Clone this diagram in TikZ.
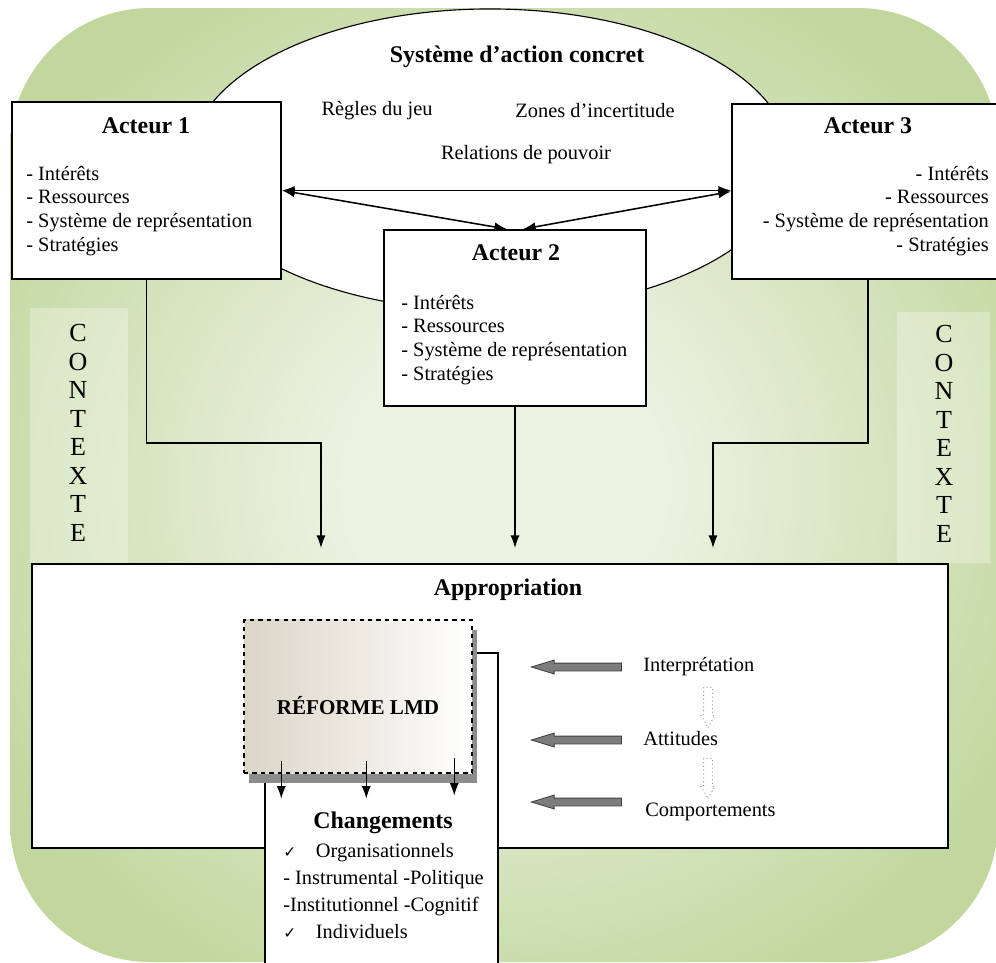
\documentclass[tikz,border=0pt]{standalone}
\usepackage{fontspec}
\setmainfont{Liberation Serif}
\newfontfamily\symboles{DejaVu Sans}
\usetikzlibrary{shapes.geometric,shapes.arrows,arrows.meta,shadows,calc}

\definecolor{vertfonce}{RGB}{193,215,157}
\definecolor{vertclair}{RGB}{236,242,226}
\definecolor{beige}{RGB}{218,213,198}
\definecolor{grisfleche}{RGB}{125,125,125}

\pgfdeclareradialshading{fondvert}{\pgfpoint{0bp}{0bp}}{%
	color(0bp)=(vertclair); color(8bp)=(vertclair); color(30bp)=(vertfonce); color(50bp)=(vertfonce)}

\tikzset{
	boite/.style={draw, line width=1.3pt, fill=white, inner sep=0pt},
	titre/.style={font=\bfseries\fontsize{17}{20}\selectfont, inner sep=0pt},
	texte/.style={font=\fontsize{14.5}{17}\selectfont, align=left, inner sep=0pt},
	contexte/.style={font=\fontsize{18.5}{20.3}\selectfont, align=center, inner sep=0pt},
	fleche/.style={-{Latex[length=9pt,width=6.5pt]}, line width=1pt},
	doublefleche/.style={{Latex[length=9pt,width=6.5pt]}-{Latex[length=9pt,width=6.5pt]}, line width=1.1pt},
	flechegrise/.style={single arrow, draw=black!75, line width=0.6pt, fill=grisfleche, minimum height=2.25cm, inner xsep=0pt, inner ysep=0.0875cm, single arrow head extend=0.075cm, single arrow tip angle=34},
	flechecreuse/.style={single arrow, draw=gray!80, dotted, line width=0.7pt, fill=white, minimum height=1cm, inner xsep=0pt, inner ysep=0.1cm, single arrow head extend=0.0625cm, single arrow tip angle=60}
}

\begin{document}
\begin{tikzpicture}[x=0.025cm, y=-0.025cm]
	\clip ( 0, 0 ) rectangle ( 996, 963 );

	% fond
	\shade [shading=fondvert, rounded corners=3.5cm] ( 10, 8 ) rectangle ( 998, 962 );

	% bandes contexte
	\fill [white, opacity=0.3] ( 30, 308 ) rectangle ( 128, 563 );
	\fill [white, opacity=0.3] ( 897, 312 ) rectangle ( 990, 563 );
	\node [contexte] (ctxg) at ( 78, 433 ) {C\\O\\N\\T\\E\\X\\T\\E};
	\node [contexte] (ctxd) at ( 944, 434 ) {C\\O\\N\\T\\E\\X\\T\\E};

	% système d'action concret
	\node [ellipse, draw, line width=0.8pt, fill=white, minimum width=15cm, minimum height=7.55cm] (sac) at ( 490, 160 ) {};
	\node [titre] (tsac) at ( 517, 57 ) {Système d’action concret};
	\node [texte] (regles) at ( 377, 111 ) {Règles du jeu};
	\node [texte] (zones) at ( 595, 111 ) {Zones d’incertitude};
	\node [texte] (relations) at ( 526, 155 ) {Relations de pouvoir};

	% acteur 1
	\node [boite, minimum width=6.725cm, minimum height=4.425cm] (act1) at ( 146.5, 190.5 ) {};
	\node [titre] (tact1) at ( 146, 126 ) {Acteur 1};
	\node [texte, anchor=west] (lact1) at ( 26, 211 ) {- Intérêts\\- Ressources\\- Système de représentation\\- Stratégies};

	% acteur 3
	\node [boite, minimum width=6.8cm, minimum height=4.375cm] (act3) at ( 868, 191.5 ) {};
	\node [titre] (tact3) at ( 868, 126 ) {Acteur 3};
	\node [texte, align=right, anchor=east] (lact3) at ( 989, 211 ) {- Intérêts\\- Ressources\\- Système de représentation\\- Stratégies};

	% acteur 2
	\node [boite, minimum width=6.55cm, minimum height=4.4cm] (act2) at ( 515, 318 ) {};
	\node [titre] (tact2) at ( 516, 253 ) {Acteur 2};
	\node [texte, anchor=west] (lact2) at ( 401, 340 ) {- Intérêts\\- Ressources\\- Système de représentation\\- Stratégies};

	% relations entre acteurs
	\draw [doublefleche] (act1.east) -- (act1.east -| act3.west);
	\draw [doublefleche] (act1.east) -- ($ (act2.north) + ( -8, 0 ) $);
	\draw [doublefleche] (act3.west) -- ($ (act2.north) + ( 8, 0 ) $);

	% vers l'appropriation
	\coordinate (c1) at ( 321, 548 );
	\coordinate (c2) at ( 515, 548 );
	\coordinate (c3) at ( 713, 548 );
	\draw [fleche] (act1.south) -- ++( 0, 163 ) -| (c1);
	\draw [fleche] (act2.south) -- (c2);
	\draw [fleche] (act3.south) -- ++( 0, 163 ) -| (c3);

	% appropriation
	\node [boite, minimum width=22.9cm, minimum height=7.1cm] (approp) at ( 490, 706 ) {};
	\node [titre] (tapprop) at ( 508, 590 ) {Appropriation};

	% changements
	\node [boite, line width=1pt, minimum width=5.825cm, minimum height=7.925cm] (chg) at ( 381.5, 811.5 ) {};
	\node [titre] (tchg) at ( 383, 823 ) {Changements};
	\node [texte, anchor=west, font=\fontsize{14.5}{19.2}\selectfont] (lchg) at ( 283, 891 ) {{\symboles\fontsize{11}{11}\selectfont ✓}\hspace{14pt}Organisationnels\\- Instrumental -Politique\\-Institutionnel -Cognitif\\{\symboles\fontsize{11}{11}\selectfont ✓}\hspace{14pt}Individuels};

	% réforme LMD
	\node [draw, dashed, line width=1pt, left color=beige, right color=white, minimum width=5.7cm, minimum height=3.825cm, drop shadow={shadow xshift=0.125cm, shadow yshift=-0.25cm, fill=black!45, opacity=1}] (reforme) at ( 358, 696.5 ) {};
	\node [titre, font=\bfseries\fontsize{15}{18}\selectfont] (treforme) at ( 358, 706 ) {RÉFORME LMD};
	\draw [fleche] ($ (reforme.south west) + ( 38, -13 ) $) -- ++( 0, 38 );
	\draw [fleche] ($ (reforme.south west) + ( 123, -13 ) $) -- ++( 0, 38 );
	\draw [fleche] ($ (reforme.south west) + ( 211, -16 ) $) -- ++( 0, 38 );

	% interprétation, attitudes, comportements
	\node [texte, anchor=west] (interp) at ( 643, 667 ) {Interprétation};
	\node [texte, anchor=west] (attit) at ( 643, 739 ) {Attitudes};
	\node [texte, anchor=west] (comport) at ( 645, 812 ) {Comportements};
	\node [flechegrise, rotate=180, anchor=tip] (g1) at ( 530, 667 ) {};
	\node [flechegrise, rotate=180, anchor=tip] (g2) at ( 530, 740 ) {};
	\node [flechegrise, rotate=180, anchor=tip] (g3) at ( 530, 802 ) {};
	\node [flechecreuse, rotate=-90, anchor=tail] (p1) at ( 708, 687 ) {};
	\node [flechecreuse, rotate=-90, anchor=tail] (p2) at ( 708, 758 ) {};
\end{tikzpicture}
\end{document}
